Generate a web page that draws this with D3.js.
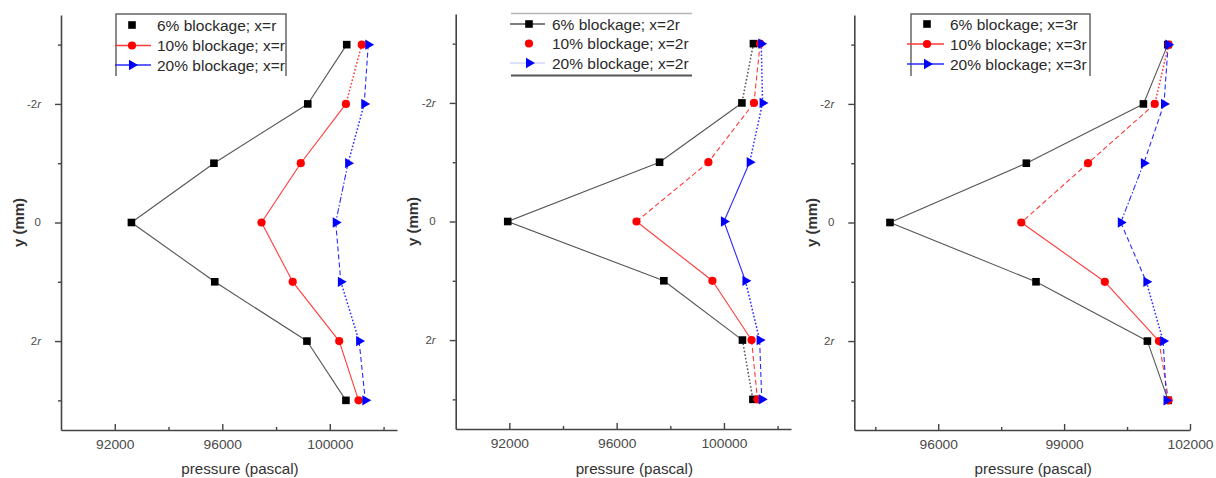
<!DOCTYPE html>
<html>
<head>
<meta charset="utf-8">
<script src="https://cdn.jsdelivr.net/npm/d3@7"></script>
<style>
  html, body { margin: 0; padding: 0; background: #fff; }
  svg { display: block; font-family: "Liberation Sans", Arial, Helvetica, sans-serif; }
</style>
</head>
<body>
<svg id="chart" width="1216" height="478"></svg>
<script>
// ---- data -------------------------------------------------------------
// transverse position across the duct, in multiples of r
const yPositions = [-3, -2, -1, 0, 1, 2, 3];

const blockageNames = ["6% blockage", "10% blockage", "20% blockage"];
const stationLabels = ["x=r", "x=2r", "x=3r"];

// static pressure (Pa) at station x = r
const pressureXr_6  = [100630, 99180, 95690, 92620, 95720, 99150, 100600];
const pressureXr_10 = [101190, 100600, 98920, 97460, 98620, 100350, 101070];
const pressureXr_20 = [101430, 101280, 100680, 100220, 100410, 101090, 101320];

// static pressure (Pa) at station x = 2r
const pressureX2r_6  = [101100, 100670, 97600, 91940, 97760, 100690, 101080];
const pressureX2r_10 = [101350, 101120, 99420, 96740, 99570, 101030, 101250];
const pressureX2r_20 = [101390, 101440, 100960, 100000, 100800, 101330, 101410];

// static pressure (Pa) at station x = 3r
const pressureX3r_6  = [101470, 100890, 98100, 94850, 98330, 100985, 101480];
const pressureX3r_10 = [101490, 101160, 99570, 97980, 99970, 101260, 101490];
const pressureX3r_20 = [101480, 101380, 100900, 100350, 100960, 101360, 101440];

// axis ticks
const yTicksMajor = [-2, 0, 2];
const yTicksMinor = [-3, -1, 1, 3];
const xTicksMajorA = [92000, 96000, 100000];
const xTicksMinorA = [94000, 98000, 102000];
const xTicksMajorB = [96000, 99000, 102000];
const xTicksMinorB = [94500, 97500, 100500];
const xDomainA = [90000, 102500];
const xDomainB = [94000, 102000];

// ---- styling ----------------------------------------------------------
const lineColors   = ["#555555", "#ff3a3a", "#2a2aff"];
const markerColors = ["#000000", "#ff0000", "#0000ff"];
const dashes = { s: null, d: "1.6,2", a: "5,3", dd: "6,2,1.5,2" };

const panels = [
  {
    series: [pressureXr_6, pressureXr_10, pressureXr_20],
    segStyles: [
      ["s", "s", "s", "s", "s", "s"],
      ["d", "s", "s", "s", "s", "s"],
      ["a", "d", "dd", "a", "d", "a"]
    ],
    xDomain: xDomainA, xMajor: xTicksMajorA, xMinor: xTicksMinorA,
    x0: 61, x1: 397, y0: 15, y1: 430,
    legend: { frame: "box", left: 116, right: 286, top: 14, bottom: 76,
              lineX0: 115, lineX1: 151, markX: 132, textX: 157, rows: [25, 45.5, 65],
              showLine: [false, true, true] }
  },
  {
    series: [pressureX2r_6, pressureX2r_10, pressureX2r_20],
    segStyles: [
      ["d", "s", "s", "s", "s", "d"],
      ["a", "a", "a", "s", "s", "a"],
      ["d", "d", "s", "s", "d", "a"]
    ],
    xDomain: xDomainA, xMajor: xTicksMajorA, xMinor: xTicksMinorA,
    x0: 455.7, x1: 791, y0: 14, y1: 429,
    legend: { frame: "rules", left: 511, right: 692, top: 13.5, bottom: 75.5,
              lineX0: 510, lineX1: 545, markX: 529, textX: 552, rows: [24, 43.5, 63],
              showLine: [true, false, true] }
  },
  {
    series: [pressureX3r_6, pressureX3r_10, pressureX3r_20],
    segStyles: [
      ["s", "s", "s", "s", "s", "s"],
      ["d", "a", "a", "s", "s", "a"],
      ["a", "a", "dd", "a", "d", "a"]
    ],
    xDomain: xDomainB, xMajor: xTicksMajorB, xMinor: xTicksMinorB,
    x0: 854.3, x1: 1190, y0: 15, y1: 430,
    legend: { frame: "box", left: 911, right: 1090, top: 14, bottom: 76,
              lineX0: 907, lineX1: 944, markX: 927, textX: 950, rows: [24, 44, 64],
              showLine: [false, true, true] }
  }
];

const svg = d3.select("#chart");
const axisColor = "#444";
const tickScaleX = 1.15;

function drawMarker(g, kind, cx, cy) {
  if (kind === 0) {
    g.append("rect").attr("x", cx - 3.8).attr("y", cy - 3.8)
      .attr("width", 7.6).attr("height", 7.6).attr("fill", markerColors[0]);
  } else if (kind === 1) {
    g.append("circle").attr("cx", cx).attr("cy", cy).attr("r", 4.1)
      .attr("fill", markerColors[1]);
  } else {
    const tri = d3.symbol().type(d3.symbolTriangle).size(46);
    g.append("path").attr("d", tri())
      .attr("transform", `translate(${cx},${cy}) rotate(90)`)
      .attr("fill", markerColors[2]);
  }
}

panels.forEach((p, pi) => {
  const g = svg.append("g");
  const x = d3.scaleLinear().domain(p.xDomain).range([p.x0, p.x1]);
  const y = d3.scaleLinear().domain([-3.5, 3.5]).range([p.y0, p.y1]);

  // x axis: inward ticks
  const xAxisG = g.append("g").attr("transform", `translate(0,${p.y1})`)
    .call(d3.axisBottom(x).tickValues(p.xMajor).tickSizeInner(-6).tickSizeOuter(0)
      .tickPadding(10).tickFormat(d3.format("d")));
  xAxisG.selectAll(".tick text")
    .attr("font-size", 12).attr("fill", "#4a4a4a")
    .attr("transform", `scale(${tickScaleX},1)`);
  xAxisG.append("g").call(d3.axisBottom(x).tickValues(p.xMinor).tickSizeInner(-3)
      .tickSizeOuter(0).tickFormat(""))
    .select(".domain").remove();

  // y axis: outward ticks, labels in multiples of r
  const yAxisG = g.append("g").attr("transform", `translate(${p.x0},0)`)
    .call(d3.axisLeft(y).tickValues(yTicksMajor).tickSizeInner(6).tickSizeOuter(0)
      .tickPadding(14).tickFormat(d => d === 0 ? "0" : d + "r"));
  yAxisG.selectAll(".tick text").each(function (d) {
    const t = d3.select(this);
    t.attr("font-size", 10).attr("fill", "#4a4a4a")
      .attr("x", -20 / tickScaleX)
      .attr("transform", `scale(${tickScaleX},1)`);
    if (d !== 0) {
      t.text(null);
      t.append("tspan").text(String(d));
      t.append("tspan").attr("font-style", "italic").text("r");
    }
  });
  yAxisG.append("g").call(d3.axisLeft(y).tickValues(yTicksMinor).tickSizeInner(3)
      .tickSizeOuter(0).tickFormat(""))
    .select(".domain").remove();

  [xAxisG, yAxisG].forEach(a => {
    a.selectAll(".domain").attr("stroke", axisColor).attr("stroke-width", 1.6);
    a.selectAll(".tick line").attr("stroke", axisColor).attr("stroke-width", 1.4);
  });

  // axis titles
  g.append("text")
    .attr("x", (p.x0 + p.x1) / 2 + 11).attr("y", 474)
    .attr("text-anchor", "middle").attr("font-size", 15.2).attr("fill", "#333")
    .text("pressure (pascal)");
  g.append("text")
    .attr("transform", `translate(${p.x0 - 43},${y(0)}) rotate(-90)`)
    .attr("text-anchor", "middle").attr("dominant-baseline", "central")
    .attr("font-size", 15).attr("font-weight", "bold").attr("fill", "#333")
    .text("y (mm)");

  // profile lines, one segment at a time so each can carry its own dash
  p.series.forEach((vals, si) => {
    const pts = vals.map((v, i) => [x(v), y(yPositions[i])]);
    for (let i = 0; i < pts.length - 1; i++) {
      const style = p.segStyles[si][i];
      g.append("path")
        .attr("d", d3.line()([pts[i], pts[i + 1]]))
        .attr("fill", "none")
        .attr("stroke", lineColors[si])
        .attr("stroke-width", style === "d" ? 1.5 : 1.1)
        .attr("stroke-dasharray", dashes[style]);
    }
  });

  // markers
  p.series.forEach((vals, si) => {
    const mg = g.append("g");
    vals.forEach((v, i) => drawMarker(mg, si, x(v), y(yPositions[i])));
  });

  // legend
  const L = p.legend;
  const lg = g.append("g");
  if (L.frame === "box") {
    lg.append("path")
      .attr("d", `M${L.left},${L.bottom}V${L.top}H${L.right}V${L.bottom}`)
      .attr("fill", "none").attr("stroke", "#666").attr("stroke-width", 1.5);
  } else {
    lg.append("line").attr("x1", L.left).attr("x2", L.right)
      .attr("y1", L.top).attr("y2", L.top)
      .attr("stroke", "#b5b5b5").attr("stroke-width", 1.5);
    lg.append("line").attr("x1", L.left).attr("x2", L.right)
      .attr("y1", L.bottom).attr("y2", L.bottom)
      .attr("stroke", "#555").attr("stroke-width", 2.2);
  }
  blockageNames.forEach((name, si) => {
    const ry = L.rows[si];
    if (L.showLine[si]) {
      lg.append("line").attr("x1", L.lineX0).attr("x2", L.lineX1)
        .attr("y1", ry).attr("y2", ry)
        .attr("stroke", lineColors[si])
        .attr("stroke-width", (pi === 1 && si === 2) ? 0.6 : 1.3)
        .attr("stroke-opacity", (pi === 1 && si === 2) ? 0.5 : 1);
    }
    drawMarker(lg, si, L.markX, ry);
    lg.append("text")
      .attr("x", L.textX).attr("y", ry + 5.5)
      .attr("font-size", 15.5).attr("fill", "#2a2a2a")
      .text(`${name}; ${stationLabels[pi]}`);
  });
});
</script>
</body>
</html>
